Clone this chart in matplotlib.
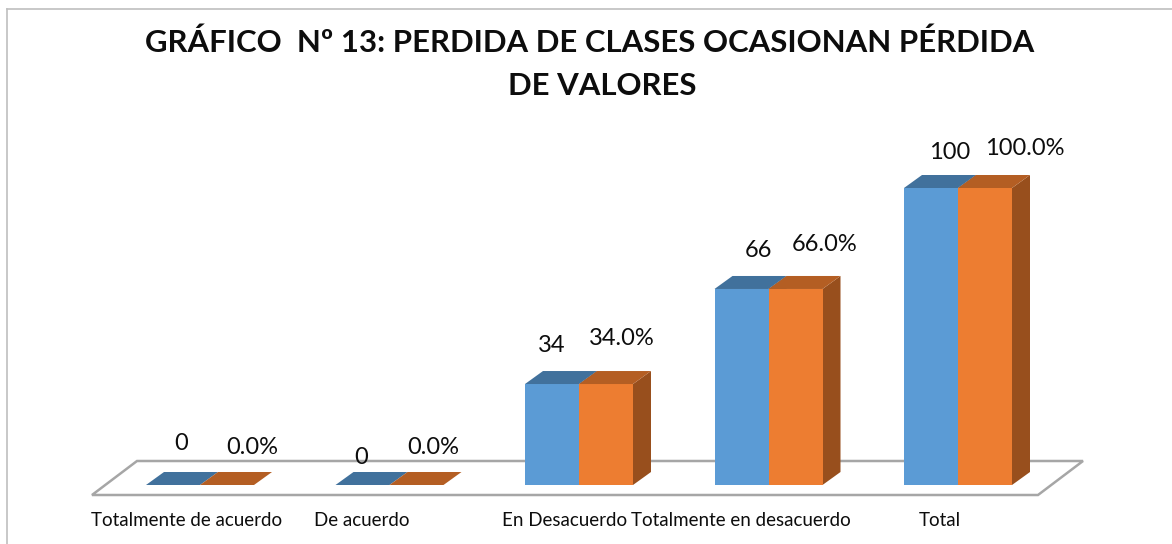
import matplotlib
matplotlib.use('Agg')
import matplotlib.pyplot as plt
from matplotlib.patches import Polygon
from matplotlib.lines import Line2D

categories = ['Totalmente de acuerdo', 'De acuerdo', 'En Desacuerdo',
              'Totalmente en desacuerdo', 'Total']
counts = [0, 0, 34, 66, 100]
percents = [0.0, 0.0, 34.0, 66.0, 100.0]

title_1 = 'GRÁFICO  Nº 13: PERDIDA DE CLASES OCASIONAN PÉRDIDA'
title_2 = 'DE VALORES'

blue = ['#5b9bd5', '#41719c', '#3a6790']    # front, top, side
orange = ['#ed7d31', '#b45e23', '#984f1d']

plt.rcParams['font.family'] = ['Lato', 'DejaVu Sans']

W, H = 1172, 544
fig = plt.figure(figsize=(W / 100, H / 100), dpi=100)

# border of chart area
fig.add_artist(Line2D([7 / W, 1], [1 - 9 / H, 1 - 9 / H], color='#bfbfbf', lw=1.2))
fig.add_artist(Line2D([7 / W, 7 / W], [0, 1 - 9 / H], color='#bfbfbf', lw=1.2))

fig.text(590 / W, 1 - 43 / H, title_1, ha='center', va='center',
         fontsize=22.4, fontweight='bold', color='#0d0d0d')
fig.text(602 / W, 1 - 86 / H, title_2, ha='center', va='center',
         fontsize=22.4, fontweight='bold', color='#0d0d0d')

# axes: x in category units, y in value units
step = 189.5
x0 = 200
ax = fig.add_axes([0, (H - 485) / H, 1, (485 - 188) / H])
ax.set_xlim(-x0 / step, (W - x0) / step)
ax.set_ylim(0, 100)
ax.axis('off')

ppu = (485 - 188) / 100.0
bw = 54 / step
dx = 18 / step
dy = 13 / ppu

# floor
yf = -10 / ppu
yb = 24 / ppu
fl = -(200 - 92) / step
fr = (1038 - 200) / step
floor = Polygon([(fl, yf), (fr, yf), (fr + dx * 2.5, yb), (fl + dx * 2.5, yb)],
                closed=True, facecolor='white', edgecolor='#a6a6a6', lw=1.8,
                clip_on=False, zorder=1)
ax.add_patch(floor)


def bar3d(x, h, cols):
    front = Polygon([(x, 0), (x + bw, 0), (x + bw, h), (x, h)],
                    facecolor=cols[0], edgecolor='none', clip_on=False, zorder=3)
    top = Polygon([(x, h), (x + bw, h), (x + bw + dx, h + dy), (x + dx, h + dy)],
                  facecolor=cols[1], edgecolor='none', clip_on=False, zorder=3)
    side = Polygon([(x + bw, 0), (x + bw + dx, dy), (x + bw + dx, h + dy), (x + bw, h)],
                   facecolor=cols[2], edgecolor='none', clip_on=False, zorder=2.9)
    for p in (side, front, top):
        ax.add_patch(p)


# label placement tweaks (pixels), mimicking Excel's 3D perspective
cat_dx = [-13, -28, -14, -28, -18]
cnt_dx = [8, -1.5, 0, 16.5, 19]
cnt_dy = [42, 27, 39, 38, 36]
pct_dx = [25, 16.5, 16, 29.5, 40]
pct_dy = [37, 37, 46, 44, 40]

for i, cat in enumerate(categories):
    bar3d(i - bw, counts[i], blue)
    bar3d(i, percents[i], orange)
    ax.text(i + cat_dx[i] / step, -36 / ppu, cat, ha='center', va='center',
            fontsize=13.5, color='#0d0d0d', clip_on=False)

for i in range(len(categories)):
    ax.text(i - bw / 2 + cnt_dx[i] / step, counts[i] + cnt_dy[i] / ppu, str(counts[i]),
            ha='center', va='center', fontsize=17, color='#0d0d0d', clip_on=False)
    ax.text(i + bw / 2 + pct_dx[i] / step, percents[i] + pct_dy[i] / ppu,
            '%.1f%%' % percents[i],
            ha='center', va='center', fontsize=17, color='#0d0d0d', clip_on=False)

fig.savefig('out.png', dpi=100)
